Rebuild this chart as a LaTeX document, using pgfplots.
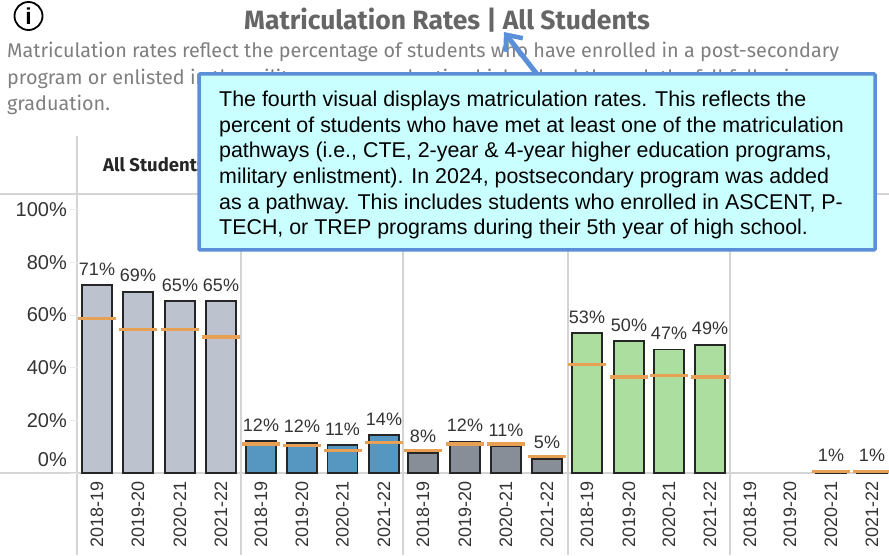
\documentclass[border=0pt]{standalone}
\usepackage{pgfplots}
\pgfplotsset{compat=1.18}
\usepackage{pgfplotstable}
\usepackage{fontspec}
\setmainfont{Liberation Sans}
\newfontfamily\tabfont{Fira Sans}
\usetikzlibrary{arrows.meta}

\definecolor{sepgrey}{HTML}{D4D4D4}
\definecolor{titlegrey}{HTML}{666666}
\definecolor{subgrey}{HTML}{7F7F7F}
\definecolor{barlight}{HTML}{BCC3CE}
\definecolor{barblue}{HTML}{5597C1}
\definecolor{bardark}{HTML}{878E97}
\definecolor{bargreen}{HTML}{ACDEA0}
\definecolor{refline}{HTML}{E8A055}
\definecolor{calloutfill}{HTML}{C9FFFF}
\definecolor{calloutblue}{HTML}{5B8FD8}
\definecolor{labelgrey}{HTML}{333333}

% x is the bar centre, rate is the bar, ref the orange reference line
\pgfplotstableread{
x rate ref label
97 71.3 58.7 71\%
138 68.8 54.5 69\%
180 65.2 54.5 65\%
221 65.2 51.5 65\%
}\groupa
\pgfplotstableread{
x rate ref label
261 12.0 11.1 12\%
302 11.4 10.4 12\%
342.5 10.6 8.6 11\%
384 14.3 11.6 14\%
}\groupb
\pgfplotstableread{
x rate ref label
423 7.7 8.6 8\%
465 11.9 11.1 12\%
506 10.1 11.1 11\%
547 5.3 6.2 5\%
}\groupc
\pgfplotstableread{
x rate ref label
587 53.0 41.2 53\%
629 50.0 36.4 50\%
669 46.9 37.0 47\%
710 48.7 36.4 49\%
}\groupd
\pgfplotstableread{
x rate ref label
831 0.5 0.5 1\%
872 0.5 0.5 1\%
}\groupe

\pgfplotsset{
  ratebar/.style={
    ybar, bar width=30pt, bar shift=0pt, draw=black!85, line width=1.8pt, fill=#1,
    nodes near coords, point meta=explicit symbolic,
    every node near coord/.append style={font=\fontsize{18}{18}\selectfont, text=labelgrey,
      anchor=south, inner sep=0pt, yshift=9pt},
  },
  refmark/.style={only marks, mark=-, mark size=19pt,
    mark options={draw=refline, line width=3.6pt}},
}

\begin{document}
\begin{tikzpicture}
\path[use as bounding box] (0,0) rectangle (889pt,555pt);

% page furniture, in image pixels from the top left
\begin{scope}[x=1pt,y=-1pt,shift={(0pt,555pt)}]
\node[anchor=center, text=titlegrey, font=\tabfont\fontsize{26.5}{26.5}\selectfont\bfseries] at (447,20) {Matriculation Rates | All Students};
\node[anchor=west, text=subgrey, inner sep=0pt, font=\tabfont\fontsize{19.8}{19.8}\selectfont] at (7,52) {Matriculation rates reflect the percentage of students who have enrolled in a post-secondary};
\node[anchor=west, text=subgrey, inner sep=0pt, font=\tabfont\fontsize{19.8}{19.8}\selectfont] at (7,79) {program or enlisted in the military upon graduating high school through the fall following};
\node[anchor=west, text=subgrey, inner sep=0pt, font=\tabfont\fontsize{19.8}{19.8}\selectfont] at (7,105) {graduation.};
\node[circle, draw=black, line width=1.8pt, minimum size=28pt, inner sep=0pt, font=\rmfamily\bfseries\fontsize{23}{23}\selectfont] at (28.5,16) {i};

\node[anchor=west, inner sep=0pt, text=black!85, font=\tabfont\bfseries\fontsize{18.5}{18.5}\selectfont] at (103,165) {All Students};

\draw[sepgrey, line width=1.4pt] (0,194) -- (889,194);
\draw[sepgrey, line width=1.4pt] (0,473) -- (889,473);
\draw[sepgrey, line width=1.4pt] (77,136) -- (77,555);
\foreach \sx in {241,403,568,730} \draw[sepgrey, line width=1.4pt] (\sx,194) -- (\sx,555);
\end{scope}

\begin{axis}[
    at={(78pt,82pt)}, anchor=south west,
    scale only axis,
    width=811pt, height=278pt,
    xmin=78, xmax=889,
    ymin=0, ymax=105.5,
    clip=false,
    axis line style={draw=none},
    tick align=outside,
    major tick length=8pt,
    xtick style={draw=none},
    ytick style={draw=sepgrey!50},
    xtick={97,138,180,221,261,302,342.5,384,423,465,506,547,587,629,669,710,750,790,831,872},
    xticklabels={2018-19,2019-20,2020-21,2021-22,2018-19,2019-20,2020-21,2021-22,2018-19,2019-20,2020-21,2021-22,2018-19,2019-20,2020-21,2021-22,2018-19,2019-20,2020-21,2021-22},
    x tick label style={rotate=90, anchor=east, font=\fontsize{18}{18}\selectfont, text=labelgrey, inner sep=0pt},
    ytick={20,40,60,80,100},
    yticklabels={20\%,40\%,60\%,80\%,100\%},
    yticklabel shift=3pt,
    y tick label style={font=\fontsize{20}{20}\selectfont, text=labelgrey, inner sep=0pt},
    extra y ticks={0},
    extra y tick labels={0\%},
    extra y tick style={yticklabel style={yshift=13pt}},
]
\addplot[ratebar=barlight] table[x=x, y=rate, meta=label] {\groupa};
\addplot[ratebar=barblue] table[x=x, y=rate, meta=label] {\groupb};
\addplot[ratebar=bardark] table[x=x, y=rate, meta=label] {\groupc};
\addplot[ratebar=bargreen] table[x=x, y=rate, meta=label] {\groupd};
\addplot[ratebar=refline] table[x=x, y=rate, meta=label] {\groupe};
\addplot[refmark] table[x=x, y=ref] {\groupa};
\addplot[refmark] table[x=x, y=ref] {\groupb};
\addplot[refmark] table[x=x, y=ref] {\groupc};
\addplot[refmark] table[x=x, y=ref] {\groupd};
\addplot[refmark] table[x=x, y=ref] {\groupe};
\end{axis}

% callout on top of the chart
\begin{scope}[x=1pt,y=-1pt,shift={(0pt,555pt)}]
\draw[calloutblue, line width=5pt, -{Straight Barb[length=13pt,width=22pt,line width=4.5pt]}] (540,78) -- (504,32);
\draw[calloutblue, line width=3.5pt, fill=calloutfill, rounded corners=1pt] (199,74) rectangle (875,250);
\node[anchor=north west, inner sep=0pt, align=left, text=black, font=\fontsize{21.4}{25.6}\selectfont] at (219,91) {The fourth visual displays matriculation rates. This reflects the\\
percent of students who have met at least one of the matriculation\\
pathways (i.e., CTE, 2-year \& 4-year higher education programs,\\
military enlistment). In 2024, postsecondary program was added\\
as a pathway. This includes students who enrolled in ASCENT, P-\\
TECH, or TREP programs during their 5th year of high school.};
\end{scope}
\end{tikzpicture}
\end{document}
